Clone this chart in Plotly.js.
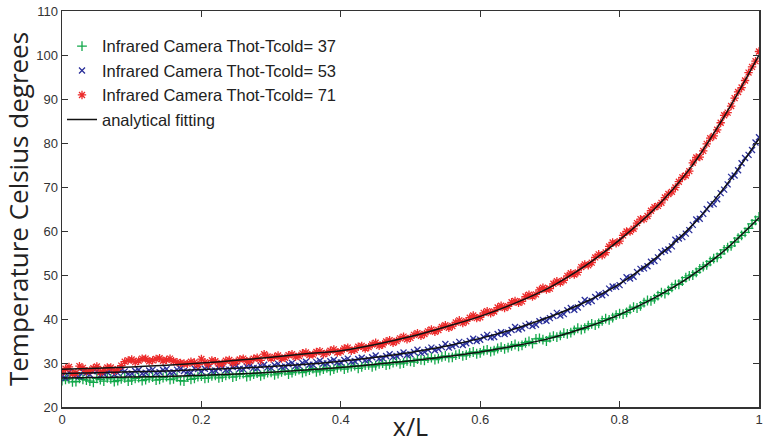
<!DOCTYPE html>
<html>
<head>
<meta charset="utf-8">
<script src="https://cdn.plot.ly/plotly-3.0.1.min.js"></script>
<style>html,body{margin:0;padding:0;background:#fff;}#chart{width:765px;height:443px;}</style>
</head>
<body>
<div id="chart"></div>
<script>
// measured positions x/L (whole steps)
var xData = [0.00,0.01,0.02,0.03,0.04,0.05,0.06,0.07,0.08,0.09,
 0.10,0.11,0.12,0.13,0.14,0.15,0.16,0.17,0.18,0.19,
 0.20,0.21,0.22,0.23,0.24,0.25,0.26,0.27,0.28,0.29,
 0.30,0.31,0.32,0.33,0.34,0.35,0.36,0.37,0.38,0.39,
 0.40,0.41,0.42,0.43,0.44,0.45,0.46,0.47,0.48,0.49,
 0.50,0.51,0.52,0.53,0.54,0.55,0.56,0.57,0.58,0.59,
 0.60,0.61,0.62,0.63,0.64,0.65,0.66,0.67,0.68,0.69,
 0.70,0.71,0.72,0.73,0.74,0.75,0.76,0.77,0.78,0.79,
 0.80,0.81,0.82,0.83,0.84,0.85,0.86,0.87,0.88,0.89,
 0.90,0.91,0.92,0.93,0.94,0.95,0.96,0.97,0.98,0.99,1.00];
// measured positions x/L (half steps)
var xHalf = [0.005,0.015,0.025,0.035,0.045,0.055,0.065,0.075,0.085,0.095,
 0.105,0.115,0.125,0.135,0.145,0.155,0.165,0.175,0.185,0.195,
 0.205,0.215,0.225,0.235,0.245,0.255,0.265,0.275,0.285,0.295,
 0.305,0.315,0.325,0.335,0.345,0.355,0.365,0.375,0.385,0.395,
 0.405,0.415,0.425,0.435,0.445,0.455,0.465,0.475,0.485,0.495,
 0.505,0.515,0.525,0.535,0.545,0.555,0.565,0.575,0.585,0.595,
 0.605,0.615,0.625,0.635,0.645,0.655,0.665,0.675,0.685,0.695,
 0.705,0.715,0.725,0.735,0.745,0.755,0.765,0.775,0.785,0.795,
 0.805,0.815,0.825,0.835,0.845,0.855,0.865,0.875,0.885,0.895,
 0.905,0.915,0.925,0.935,0.945,0.955,0.965,0.975,0.985,0.995];

// Infrared camera, Thot-Tcold = 37
var t37 = [26.0,26.4,25.8,26.3,25.9,26.5,25.9,26.4,26.0,26.6,
 26.1,26.7,26.2,26.8,26.3,26.9,26.4,26.0,26.9,26.5,
 27.0,26.6,27.2,26.8,27.4,27.0,27.6,27.1,27.7,27.4,
 27.9,27.6,28.2,27.8,28.5,28.1,28.7,28.3,28.9,28.6,
 29.2,28.9,29.4,29.1,29.6,29.4,30.0,29.7,30.3,30.0,
 30.4,30.9,30.6,31.2,31.0,31.6,31.3,32.0,31.8,32.5,
 32.3,33.0,32.8,33.6,33.5,34.2,34.0,34.9,35.5,35.3,
 35.8,35.9,36.8,36.9,37.9,37.9,38.9,39.0,40.1,40.3,
 41.2,41.5,42.7,43.0,44.2,44.6,46.0,46.5,47.8,48.6,
 49.8,50.6,51.9,53.1,54.0,55.7,56.6,58.4,59.7,61.6,63.2];
var t37Half = [26.3,25.7,26.5,26.1,25.6,26.2,26.6,25.8,26.4,25.9,
 26.5,26.0,26.6,26.1,26.7,26.2,26.8,25.9,26.3,26.9,
 26.5,27.1,26.6,27.2,26.8,27.4,26.9,27.5,27.1,27.8,
 27.3,28.0,27.5,28.2,27.8,28.4,28.0,28.6,28.3,28.9,
 28.6,29.2,28.8,29.5,29.1,29.8,29.5,30.1,29.8,30.5,
 30.2,30.7,31.1,30.8,31.4,31.2,31.8,31.6,32.3,32.1,
 32.8,32.6,33.3,33.2,33.9,33.8,34.6,34.4,35.6,35.0,
 36.1,36.3,36.6,37.4,37.6,38.5,38.6,39.6,39.8,40.9,
 41.1,42.2,42.5,43.7,44.1,45.3,45.8,47.2,47.9,49.4,
 50.0,51.4,52.3,53.7,54.8,56.2,57.5,59.0,60.6,62.4];

// Infrared camera, Thot-Tcold = 53
var t53 = [27.1,27.9,27.3,28.0,27.4,28.2,27.5,28.3,27.7,28.1,
 27.6,28.4,27.8,28.5,27.9,28.6,27.9,28.7,28.0,28.8,
 28.1,28.9,28.3,29.0,28.5,29.3,28.6,29.4,28.8,29.6,
 28.9,29.8,29.2,30.0,29.4,30.3,29.6,30.5,29.9,30.7,
 30.1,31.0,30.4,31.2,30.8,31.7,31.1,32.0,31.6,32.4,
 32.0,33.0,32.5,33.5,33.2,34.3,33.8,34.8,34.5,35.5,
 35.3,36.4,35.9,37.0,36.9,38.2,37.9,38.9,38.7,39.8,
 40.2,41.4,41.1,42.5,42.6,44.3,44.1,45.6,45.9,47.4,
 47.7,49.5,49.6,51.4,52.0,53.2,55.2,55.8,58.0,58.6,
 60.2,62.6,63.9,66.0,67.2,69.4,72.3,73.8,76.6,78.4,81.3];
var t53Half = [26.6,27.5,26.9,27.7,28.1,27.2,27.9,27.4,28.4,27.5,
 28.2,27.6,28.3,27.7,28.4,27.8,28.5,28.2,27.8,28.6,
 28.7,28.2,28.8,28.4,29.1,28.7,29.2,28.9,29.4,29.0,
 29.5,29.1,29.7,29.3,30.0,29.6,30.2,29.9,30.4,30.1,
 30.7,30.3,30.9,30.6,31.3,31.0,31.6,31.4,32.0,31.8,
 32.5,32.3,33.0,32.9,33.6,33.5,34.2,34.1,35.0,35.0,
 35.9,35.8,36.6,36.6,37.5,37.6,38.5,38.4,39.5,39.6,
 40.7,40.8,42.0,42.1,43.4,43.8,45.0,45.4,46.9,47.3,
 48.6,49.2,50.7,51.5,53.0,54.0,55.5,56.5,58.3,59.4,
 61.4,62.8,65.0,66.1,68.6,70.6,72.6,75.4,77.3,80.1];

// Infrared camera, Thot-Tcold = 71
var t71 = [28.0,29.1,27.8,28.9,28.3,29.2,28.4,29.0,28.6,30.3,
 30.8,30.5,31.0,30.6,31.1,30.7,30.4,30.0,29.8,30.1,
 30.9,29.7,30.4,29.9,30.7,30.3,31.0,30.5,31.2,32.0,
 31.0,31.7,31.2,32.0,31.6,32.4,31.9,32.7,32.3,33.1,
 32.6,33.5,33.0,33.9,33.6,34.6,34.2,35.2,35.0,36.0,
 35.7,36.8,36.6,37.6,37.5,38.6,38.4,39.7,39.5,40.8,
 40.4,41.8,41.7,43.0,42.9,44.1,44.0,45.5,45.6,47.1,
 46.9,48.6,48.8,50.4,50.6,52.4,52.8,54.7,55.1,57.4,
 57.7,59.9,60.5,62.7,63.4,65.4,66.4,68.4,69.9,72.2,
 73.6,76.7,78.2,81.1,83.0,86.3,88.4,91.6,94.2,97.3,100.8];
var t71Half = [28.7,27.6,29.3,28.1,28.8,27.9,29.0,28.2,29.4,30.6,
 30.2,31.0,30.4,30.9,30.5,31.0,30.2,29.9,30.3,29.6,
 30.2,30.6,29.8,30.5,30.0,30.8,30.4,31.0,30.6,31.5,
 31.4,31.0,31.8,31.4,32.2,31.8,32.5,32.0,32.8,32.4,
 33.3,32.8,33.7,33.3,34.2,33.9,34.9,34.6,35.6,35.4,
 36.4,36.2,37.2,37.1,38.2,38.0,39.2,39.1,40.3,40.2,
 41.4,41.3,42.6,42.5,43.8,43.7,45.1,45.1,46.6,46.7,
 48.0,48.3,49.8,50.1,51.8,52.2,54.0,54.5,56.5,57.2,
 59.0,59.9,61.8,62.7,64.6,65.7,67.6,68.9,71.2,72.6,
 75.5,76.8,79.8,81.6,84.6,86.9,90.2,92.6,96.0,98.6];

// analytical fitting curves
var xFit = [0,0.05,0.1,0.15,0.2,0.25,0.3,0.35,0.4,0.45,0.5,0.55,0.6,0.65,0.7,0.75,0.8,0.85,0.9,0.95,1.0];
var fit37 = [26.6,26.7,26.8,26.95,27.2,27.5,27.9,28.4,29.0,29.7,30.5,31.4,32.5,33.9,35.6,38.0,41.0,44.8,49.5,55.5,63.0];
var fit53 = [27.6,27.8,28.0,28.2,28.5,28.8,29.2,29.7,30.4,31.3,32.4,33.8,35.6,37.8,40.5,43.8,48.0,53.6,60.6,69.8,81.0];
var fit71 = [28.6,28.8,29.1,29.5,30.0,30.6,31.3,32.1,32.8,34.2,36.0,38.2,40.6,43.6,47.2,52.0,58.0,65.0,74.0,86.0,100.0];

var seriesNames = ['Infrared Camera Thot-Tcold= 37','Infrared Camera Thot-Tcold= 53','Infrared Camera Thot-Tcold= 71','analytical fitting'];
var xTicks = [0,0.2,0.4,0.6,0.8,1];
var xTickText = ['0','0.2','0.4','0.6','0.8','1'];
var yTicks = [20,30,40,50,60,70,80,90,100,110];

var traces = [
  {x:xData.concat(xHalf), y:t37.concat(t37Half), type:'scatter', mode:'markers', name:seriesNames[0],
   marker:{symbol:'cross-thin-open', size:7, color:'#12a84a', line:{color:'#12a84a', width:1.3}}},
  {x:xData.concat(xHalf), y:t53.concat(t53Half), type:'scatter', mode:'markers', name:seriesNames[1],
   marker:{symbol:'x-thin-open', size:6, color:'#2a2f9a', line:{color:'#2a2f9a', width:1.3}}},
  {x:xData.concat(xHalf), y:t71.concat(t71Half), type:'scatter', mode:'markers', name:seriesNames[2],
   marker:{symbol:'asterisk-open', size:7, color:'#ec2a2a', line:{color:'#ec2a2a', width:1.3}}},
  {x:xFit, y:fit37, type:'scatter', mode:'lines', name:seriesNames[3], legendgroup:'fit',
   line:{color:'#111', width:1.5, shape:'spline'}},
  {x:xFit, y:fit53, type:'scatter', mode:'lines', name:seriesNames[3], legendgroup:'fit', showlegend:false,
   line:{color:'#111', width:1.5, shape:'spline'}},
  {x:xFit, y:fit71, type:'scatter', mode:'lines', name:seriesNames[3], legendgroup:'fit', showlegend:false,
   line:{color:'#111', width:1.5, shape:'spline'}}
];

var layout = {
  width:765, height:443,
  margin:{l:62, r:6, t:11, b:36},
  paper_bgcolor:'#fff', plot_bgcolor:'#fff',
  font:{family:'Liberation Sans, Arial, sans-serif', color:'#333'},
  showlegend:true,
  legend:{x:0.0, y:0.955, xanchor:'left', yanchor:'top', bgcolor:'rgba(0,0,0,0)',
          font:{size:16.5, color:'#222'}, tracegroupgap:0},
  xaxis:{range:[0,1], tickvals:xTicks, ticktext:xTickText, ticks:'inside', ticklen:6,
         tickcolor:'#333', showline:true, linecolor:'#333', linewidth:1.5, mirror:'ticks',
         showgrid:false, zeroline:false, tickfont:{size:13, color:'#333'},
         title:{text:'x/L', font:{family:'Open Sans, DejaVu Sans, sans-serif', size:25, color:'#222'}, standoff:0}},
  yaxis:{range:[20,110], tickvals:yTicks, ticks:'inside', ticklen:6,
         tickcolor:'#333', showline:true, linecolor:'#333', linewidth:1.5, mirror:'ticks',
         showgrid:false, zeroline:false, tickfont:{size:13, color:'#333'},
         title:{text:'Temperature Celsius degrees', font:{family:'Open Sans, DejaVu Sans, sans-serif', size:26, color:'#222'}, standoff:5}}
};

Plotly.newPlot('chart', traces, layout, {displayModeBar:false, staticPlot:true});
</script>
</body>
</html>
